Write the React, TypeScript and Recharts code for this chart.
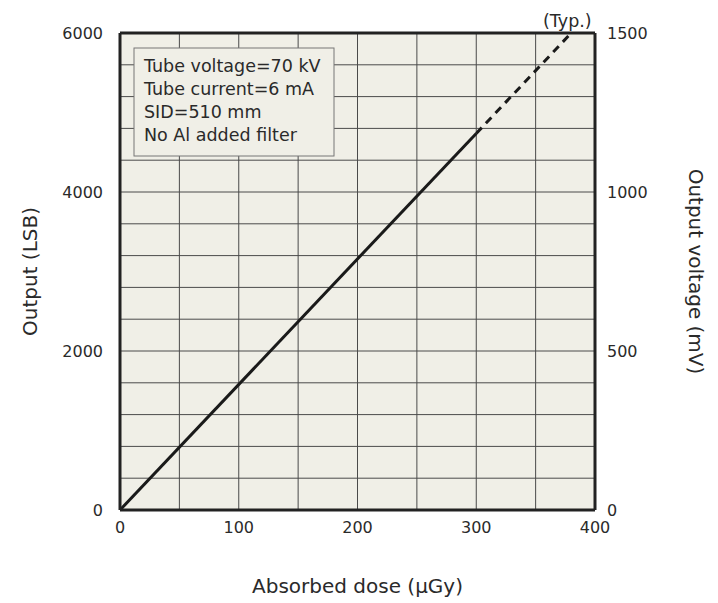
import React from "react";
import {
  LineChart,
  Line,
  XAxis,
  YAxis,
  CartesianGrid,
  ReferenceLine,
  Label,
  Customized,
} from "recharts";

// Data
const doses = [0, 300, 380];
const outputLSB = [0, 4737, 6000];
const xTicks = [0, 50, 100, 150, 200, 250, 300, 350, 400];
const yTicks = [0, 400, 800, 1200, 1600, 2000, 2400, 2800, 3200, 3600, 4000, 4400, 4800, 5200, 5600, 6000];
const rightTicks = [0, 500, 1000, 1500];
const conditions = ["Tube voltage=70 kV", "Tube current=6 mA", "SID=510 mm", "No Al added filter"];
const LSB_PER_MV = 4;

const data = doses.map((d, i) => ({
  dose: d,
  solid: d <= 300 ? outputLSB[i] : null,
  dashed: d >= 300 ? outputLSB[i] : null,
  mv: outputLSB[i] / LSB_PER_MV,
}));

const FONT = "DejaVu Sans, Verdana, sans-serif";
const TXT = "#2a2a2a";
const BG = "#F0EFE7";
const PLOT_LEFT = 120;
const PLOT_TOP = 33;
const PLOT_RIGHT = 595;

const ConditionBox = () => {
  const x = PLOT_LEFT + 14;
  const y = PLOT_TOP + 15;
  return (
    <g>
      <rect x={x} y={y} width={200} height={108} fill={BG} stroke="#777" strokeWidth={1} />
      {conditions.map((c, i) => (
        <text key={c} x={x + 10} y={y + 24 + i * 23} fontSize={17.5} fontFamily={FONT} fill={TXT}>
          {c}
        </text>
      ))}
      <text x={PLOT_RIGHT - 52} y={PLOT_TOP - 6} fontSize={17.5} fontFamily={FONT} fill={TXT}>
        (Typ.)
      </text>
    </g>
  );
};

export default function App() {
  return (
    <div style={{ position: "absolute", left: 0, top: 0, background: "#fff" }}>
      <LineChart
        width={718}
        height={603}
        data={data}
        margin={{ top: 33, right: 0, left: 0, bottom: 0 }}
        style={{ fontFamily: FONT }}
      >
        <CartesianGrid
          yAxisId="left"
          fill={BG}
          stroke="#4a4a4a"
          strokeWidth={1}
          strokeOpacity={1}
        />
        <XAxis
          dataKey="dose"
          type="number"
          domain={[0, 400]}
          ticks={xTicks}
          interval={0}
          tickFormatter={(v: number) => (v % 100 === 0 ? String(v) : "")}
          tickLine={false}
          axisLine={{ stroke: "#222", strokeWidth: 3 }}
          tick={{ fill: TXT, fontSize: 16, fontFamily: FONT }}
          tickMargin={6}
          height={93}
        >
          <Label value="Absorbed dose (µGy)" position="insideBottom" offset={10} fill={TXT} fontSize={20} fontFamily={FONT} />
        </XAxis>
        <YAxis
          yAxisId="left"
          type="number"
          domain={[0, 6000]}
          ticks={yTicks}
          interval={0}
          tickFormatter={(v: number) => (v % 2000 === 0 ? String(v) : "")}
          tickLine={false}
          axisLine={{ stroke: "#222", strokeWidth: 3 }}
          tick={{ fill: TXT, fontSize: 16, fontFamily: FONT }}
          tickMargin={11}
          width={120}
        >
          <Label value="Output (LSB)" angle={-90} position="insideLeft" offset={30} fill={TXT} fontSize={20} fontFamily={FONT} style={{ textAnchor: "middle" }} />
        </YAxis>
        <YAxis
          yAxisId="right"
          orientation="right"
          type="number"
          domain={[0, 1500]}
          ticks={rightTicks}
          interval={0}
          tickLine={false}
          axisLine={{ stroke: "#222", strokeWidth: 3 }}
          tick={{ fill: TXT, fontSize: 16, fontFamily: FONT }}
          tickMargin={6}
          width={123}
        >
          <Label value="Output voltage (mV)" angle={90} position="insideRight" offset={22} fill={TXT} fontSize={20} fontFamily={FONT} style={{ textAnchor: "middle" }} />
        </YAxis>
        <ReferenceLine yAxisId="left" y={6000} stroke="#222" strokeWidth={3} />
        <Line
          yAxisId="right"
          dataKey="mv"
          stroke="none"
          strokeWidth={0}
          dot={false}
          activeDot={false}
          isAnimationActive={false}
        />
        <Line
          yAxisId="left"
          dataKey="solid"
          stroke="#1a1a1a"
          strokeWidth={3}
          dot={false}
          isAnimationActive={false}
          connectNulls={false}
        />
        <Line
          yAxisId="left"
          dataKey="dashed"
          stroke="#1a1a1a"
          strokeWidth={3}
          strokeDasharray="8 6"
          dot={false}
          isAnimationActive={false}
          connectNulls={false}
        />
        <Customized component={ConditionBox} />
      </LineChart>
    </div>
  );
}
